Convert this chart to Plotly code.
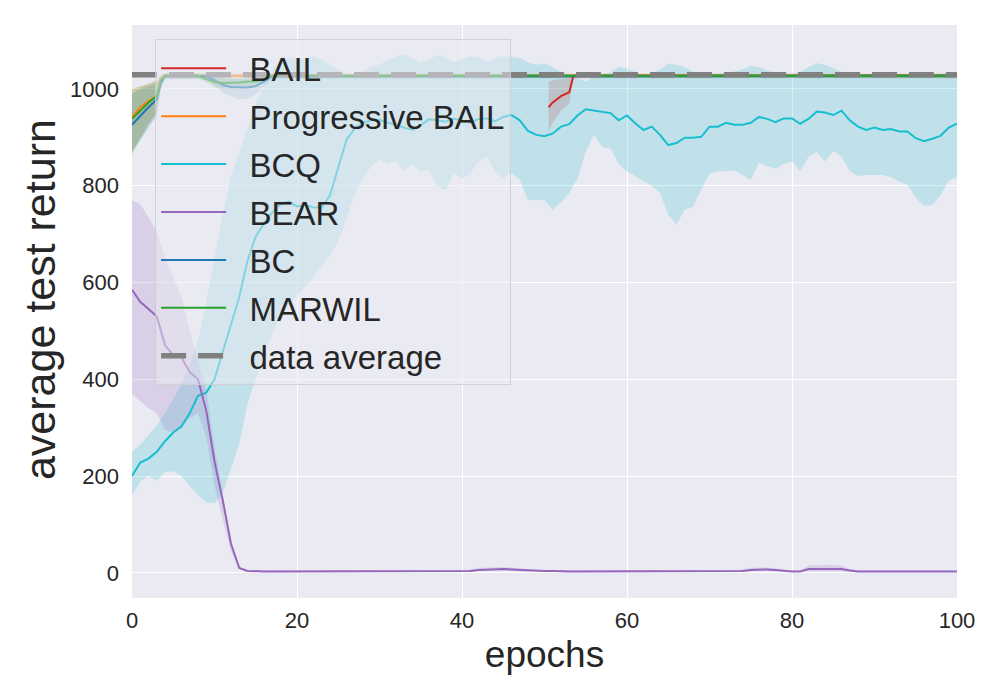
import plotly.graph_objects as go

# ---- data ----
epochs = list(range(0, 101))

bcq_mean = [200, 228, 236, 250, 272, 290, 303, 330, 366, 372,
            400, 455, 510, 570, 645, 695, 722, 745, 762, 767,
            757, 760, 755, 755, 780, 835, 895, 918, 930, 935,
            936, 930, 926, 920, 915, 925, 937, 935, 932, 938,
            935, 930, 938, 939, 933, 942, 946, 935, 913, 905,
            902, 908, 922, 927, 945, 958, 955, 953, 950, 935,
            945, 929, 915, 922, 905, 884, 888, 899, 899, 901,
            922, 922, 930, 926, 926, 930, 942, 938, 931, 939,
            939, 928, 938, 953, 951, 946, 955, 935, 922, 915,
            920, 915, 917, 912, 912, 898, 892, 897, 903, 920, 928]
bcq_upper = [250, 265, 285, 305, 330, 360, 390, 430, 480, 560,
             650, 740, 820, 870, 920, 970, 1010, 1040, 1060, 1065,
             1060, 1062, 1067, 1060, 1050, 1040, 1030, 1028, 1035, 1046,
             1050, 1060, 1067, 1072, 1062, 1053, 1060, 1070, 1065, 1055,
             1062, 1067, 1065, 1055, 1065, 1068, 1066, 1064, 1055, 1050,
             1052, 1045, 1035, 1027, 1022, 1015, 1025, 1030, 1035, 1045,
             1042, 1035, 1025, 1030, 1040, 1052, 1050, 1045, 1035, 1032,
             1032, 1032, 1034, 1036, 1040, 1048, 1045, 1038, 1034, 1032,
             1032, 1035, 1045, 1053, 1050, 1043, 1035, 1028, 1027, 1030,
             1032, 1028, 1022, 1025, 1029, 1030, 1028, 1029, 1031, 1034, 1036]
bcq_lower = [160, 189, 200, 190, 208, 210, 200, 180, 160, 146,
             144, 165, 215, 265, 350, 400, 452, 495, 530, 555,
             572, 592, 610, 635, 655, 685, 730, 785, 815, 840,
             855, 845, 852, 830, 845, 828, 832, 800, 790, 825,
             815, 825, 850, 860, 830, 815, 826, 812, 770, 770,
             770, 750, 765, 785, 815, 870, 905, 880, 877, 845,
             830, 820, 810, 800, 785, 740, 720, 750, 757, 790,
             825, 830, 830, 832, 822, 812, 848, 840, 835, 845,
             850, 830, 860, 870, 850, 872, 860, 830, 820, 822,
             822, 822, 818, 808, 802, 775, 758, 760, 780, 810, 818]

bear_mean = [585, 560, 545, 530, 470, 450, 445, 415, 400, 335,
             230, 150, 60, 10, 4, 3, 3, 3, 3, 3,
             3, 3, 3, 3, 3, 3, 3, 3, 3, 3,
             3, 3, 3, 3, 3, 3, 3, 3, 3, 3,
             3, 4, 6, 7, 8, 8, 7, 6, 5, 4,
             4, 4, 3, 3, 3, 3, 3, 3, 3, 3,
             3, 3, 3, 3, 3, 3, 3, 3, 3, 3,
             3, 3, 3, 3, 4, 6, 7, 7, 6, 4,
             3, 3, 8, 8, 8, 8, 8, 5, 3, 3,
             3, 3, 3, 3, 3, 3, 3, 3, 3, 3, 3]
bear_upper = [770, 762, 735, 705, 650, 610, 570, 500, 440, 380,
              260, 160, 62, 12, 6, 5, 5, 5, 5, 5,
              5, 5, 5, 5, 5, 5, 5, 5, 5, 5,
              5, 5, 5, 5, 5, 5, 5, 5, 5, 5,
              5, 7, 10, 11, 12, 12, 11, 9, 7, 6,
              6, 6, 5, 5, 5, 5, 5, 5, 5, 5,
              5, 5, 5, 5, 5, 5, 5, 5, 5, 5,
              5, 5, 5, 5, 7, 10, 11, 11, 9, 6,
              5, 5, 15, 16, 16, 16, 15, 8, 5, 5,
              5, 5, 5, 5, 5, 5, 5, 5, 5, 5, 5]
bear_lower = [370, 355, 340, 330, 295, 290, 300, 320, 330, 280,
              180, 110, 45, 8, 2, 2, 2, 2, 2, 2,
              2, 2, 2, 2, 2, 2, 2, 2, 2, 2,
              2, 2, 2, 2, 2, 2, 2, 2, 2, 2,
              2, 2, 3, 4, 5, 5, 4, 3, 3, 2,
              2, 2, 2, 2, 2, 2, 2, 2, 2, 2,
              2, 2, 2, 2, 2, 2, 2, 2, 2, 2,
              2, 2, 2, 2, 2, 3, 4, 4, 3, 2,
              2, 2, 3, 3, 3, 3, 3, 2, 2, 2,
              2, 2, 2, 2, 2, 2, 2, 2, 2, 2, 2]

bail_x = [50.5, 51, 52, 53, 53.5, 54, 100]
bail_mean = [962, 972, 985, 993, 1027, 1027, 1027]
bail_upper = [1015, 1018, 1020, 1022, 1030, 1030, 1030]
bail_lower = [912, 930, 955, 970, 1020, 1024, 1024]

prog_x = [0, 1, 2, 3, 3.5, 4, 100]
prog_mean = [942, 962, 975, 985, 1020, 1027, 1027]
prog_upper = [1000, 1005, 1010, 1018, 1030, 1032, 1032]
prog_lower = [870, 900, 930, 950, 1005, 1022, 1022]

bc_x = [0, 1, 2, 3, 3.5, 4, 9, 10, 11, 12, 13, 14, 15, 16, 17, 100]
bc_mean = [926, 945, 962, 978, 1012, 1026, 1026, 1018, 1008, 1004, 1003, 1003, 1006, 1015, 1026, 1027]
bc_upper = [990, 1000, 1005, 1012, 1025, 1032, 1032, 1028, 1022, 1020, 1020, 1020, 1022, 1026, 1030, 1030]
bc_lower = [870, 895, 920, 945, 1000, 1020, 1020, 1006, 992, 985, 978, 980, 988, 1004, 1022, 1022]

marwil_x = [0, 1, 2, 3, 3.5, 4, 8, 9, 10, 11, 12, 13, 14, 15, 16, 17, 100]
marwil_mean = [938, 955, 972, 985, 1018, 1027, 1027, 1020, 1014, 1012, 1012, 1013, 1015, 1015, 1020, 1027, 1027]
marwil_upper = [1000, 1005, 1010, 1018, 1028, 1032, 1032, 1028, 1024, 1022, 1022, 1023, 1024, 1024, 1027, 1031, 1031]
marwil_lower = [865, 895, 925, 950, 1005, 1022, 1022, 1012, 1004, 1000, 1000, 1002, 1005, 1005, 1012, 1023, 1023]

data_avg = 1029

series = [
    ("BAIL", "#d62728", bail_x, bail_mean, bail_lower, bail_upper),
    ("Progressive BAIL", "#ff7f0e", prog_x, prog_mean, prog_lower, prog_upper),
    ("BCQ", "#17becf", epochs, bcq_mean, bcq_lower, bcq_upper),
    ("BEAR", "#9467bd", epochs, bear_mean, bear_lower, bear_upper),
    ("BC", "#1f77b4", bc_x, bc_mean, bc_lower, bc_upper),
    ("MARWIL", "#2ca02c", marwil_x, marwil_mean, marwil_lower, marwil_upper),
]


def rgba(hexcol, a):
    h = hexcol.lstrip("#")
    return "rgba(%d,%d,%d,%s)" % (int(h[0:2], 16), int(h[2:4], 16), int(h[4:6], 16), a)


pad = "\u00a0\u00a0"  # gap between legend line and label

fig = go.Figure()

# shaded bands first, then the mean lines
for name, col, x, m, lo, hi in series:
    fig.add_trace(go.Scatter(x=list(x) + list(x)[::-1], y=list(hi) + list(lo)[::-1],
                             fill="toself", fillcolor=rgba(col, 0.2), line=dict(width=0),
                             mode="lines", hoverinfo="skip", showlegend=False))

for name, col, x, m, lo, hi in series:
    fig.add_trace(go.Scatter(x=x, y=m, mode="lines", name=pad + name, legendgroup=name,
                             line=dict(color=col, width=2)))

fig.add_trace(go.Scatter(x=[0, 100], y=[data_avg, data_avg], mode="lines",
                         name=pad + "data average", legendgroup="data average",
                         line=dict(color="#808080", width=5.5, dash="25px,12px")))

txt = "#262626"
# the page puts the figure 8px in from the top-left corner, margins allow for that
fig.update_layout(
    width=1000, height=700,
    paper_bgcolor="white", plot_bgcolor="#EAEAF2",
    margin=dict(l=124, r=51, t=17, b=110),
    font=dict(family="Liberation Sans, Arial, sans-serif", color=txt),
    legend=dict(x=0.028, y=0.975, xanchor="left", yanchor="top",
                bgcolor="rgba(234,234,242,0.5)", bordercolor="rgba(204,204,204,0.8)",
                borderwidth=1, font=dict(size=33, color=txt),
                traceorder="grouped", tracegroupgap=2, itemwidth=65),
    xaxis=dict(range=[0, 100], tickvals=[0, 20, 40, 60, 80, 100],
               showgrid=True, gridcolor="white", gridwidth=1.3, zeroline=False,
               showline=False, ticks="", tickfont=dict(size=22), ticklabelstandoff=7,
               automargin=False,
               title=dict(text="epochs", font=dict(size=37), standoff=9)),
    yaxis=dict(range=[-52, 1132], tickvals=[0, 200, 400, 600, 800, 1000],
               showgrid=True, gridcolor="white", gridwidth=1.3, zeroline=False,
               showline=False, ticks="", tickfont=dict(size=22), ticklabelstandoff=12,
               automargin=False),
)

# y label as an annotation so it can sit a little above the axis middle
fig.add_annotation(text="average test return", textangle=-90, showarrow=False,
                   xref="paper", yref="paper", x=0, y=0.52, xanchor="center", yanchor="middle",
                   xshift=-92, font=dict(size=43, color=txt))

fig.write_html("out.html")
